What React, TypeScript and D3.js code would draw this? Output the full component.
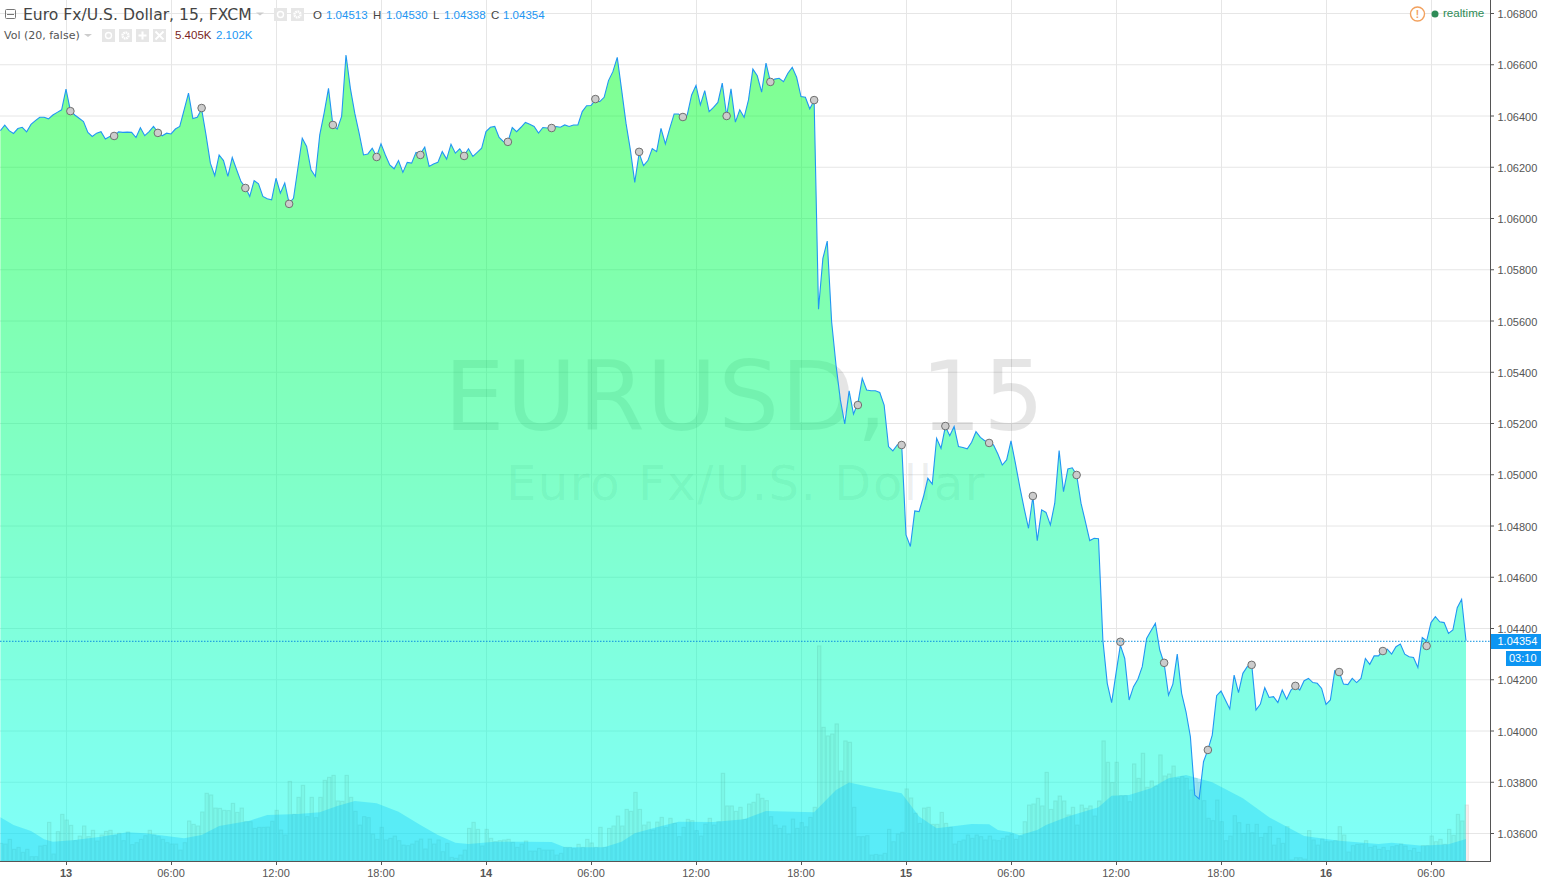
import React from 'react'
import * as d3 from 'd3'

// 15 minute closes, split by trading day. Index 0 is the "13" tick.
const closeDay12 = [1.06345,1.06366,1.06345,1.06334,1.06353,1.06358,1.06340,1.06369,1.06384,1.06397,1.06397,1.06391,1.06406,1.06416,1.06426]
const closeDay13 = [1.06507,1.06423,1.06406,1.06393,1.06380,1.06338,1.06322,1.06335,1.06341,1.06312,1.06322,1.06322,
  1.06340,1.06338,1.06339,1.06338,1.06318,1.06356,1.06325,1.06341,1.06361,1.06338,1.06325,1.06335,
  1.06332,1.06351,1.06361,1.06426,1.06491,1.06392,1.06397,1.06429,1.06328,1.06218,1.06169,1.06250,
  1.06228,1.06166,1.06240,1.06192,1.06146,1.06124,1.06088,1.06150,1.06137,1.06088,1.06079,1.06075,
  1.06159,1.06101,1.06140,1.06062,1.06081,1.06198,1.06315,1.06283,1.06192,1.06166,1.06328,1.06413,
  1.06510,1.06367,1.06351,1.06400,1.06640,1.06510,1.06413,1.06335,1.06250,1.06254,1.06276,1.06244,
  1.06293,1.06250,1.06211,1.06196,1.06228,1.06182,1.06221,1.06218,1.06260,1.06254,1.06280,1.06205,
  1.06215,1.06221,1.06263,1.06234,1.06292,1.06257,1.06274,1.06248,1.06274,1.06244,1.06260,1.06276]
const closeDay14 = [1.06341,1.06358,1.06361,1.06318,1.06302,1.06301,1.06357,1.06341,1.06358,1.06377,1.06370,1.06361,
  1.06335,1.06357,1.06355,1.06357,1.06361,1.06358,1.06367,1.06361,1.06367,1.06367,1.06419,1.06442,
  1.06443,1.06465,1.06458,1.06475,1.06540,1.06575,1.06631,1.06504,1.06374,1.06270,1.06143,1.06257,
  1.06208,1.06228,1.06275,1.06263,1.06354,1.06293,1.06354,1.06410,1.06410,1.06397,1.06406,1.06484,
  1.06521,1.06445,1.06501,1.06419,1.06436,1.06455,1.06530,1.06403,1.06508,1.06378,1.06426,1.06397,
  1.06465,1.06585,1.06559,1.06495,1.06608,1.06536,1.06546,1.06549,1.06536,1.06569,1.06592,1.06553,
  1.06478,1.06475,1.06430,1.06462,1.05648,1.05846,1.05914,1.05599,1.05430,1.05294,1.05200,1.05329,
  1.05239,1.05281,1.05378,1.05333,1.05330,1.05330,1.05323,1.05274,1.05112,1.05095,1.05118,1.05125]
const closeDay15 = [1.04767,1.04722,1.04861,1.04858,1.04917,1.04988,1.04966,1.05144,1.05105,1.05190,1.05154,1.05190,
  1.05112,1.05108,1.05103,1.05129,1.05170,1.05148,1.05135,1.05128,1.05118,1.05083,1.05040,1.05060,
  1.05134,1.05047,1.04956,1.04871,1.04793,1.04917,1.04745,1.04865,1.04855,1.04806,1.04891,1.05096,
  1.04936,1.05025,1.05029,1.05001,1.04891,1.04819,1.04745,1.04754,1.04752,1.04357,1.04188,1.04113,
  1.04227,1.04337,1.04285,1.04123,1.04175,1.04204,1.04253,1.04363,1.04393,1.04422,1.04318,1.04266,
  1.04142,1.04185,1.04302,1.04149,1.04077,1.03980,1.03752,1.03737,1.03882,1.03928,1.03986,1.04140,
  1.04158,1.04123,1.04088,1.04220,1.04152,1.04227,1.04253,1.04266,1.04084,1.04107,1.04171,1.04133,
  1.04136,1.04113,1.04162,1.04126,1.04162,1.04178,1.04162,1.04198,1.04207,1.04191,1.04188,1.04168]
const closeDay16 = [1.04106,1.04123,1.04237,1.04233,1.04185,1.04183,1.04207,1.04191,1.04207,1.04285,1.04262,1.04295,
  1.04295,1.04315,1.04321,1.04302,1.04331,1.04341,1.04302,1.04292,1.04289,1.04250,1.04367,1.04353,
  1.04425,1.04448,1.04428,1.04425,1.04383,1.04396,1.04483,1.04516,1.04354]
const closes = [...closeDay12, ...closeDay13, ...closeDay14, ...closeDay15, ...closeDay16]
const firstIndex = -closeDay12.length

// Volume in thousands, same bars as the closes.
const volDay12 = [1.70,1.64,2.09,1.13,1.32,0.84,1.13,0.42,0.42,1.45,1.51,3.73,0.68,2.83,4.50]
const volDay13 = [3.95,3.44,1.96,2.41,3.38,2.35,2.96,1.93,2.51,2.86,2.96,2.44,
  2.67,1.96,2.80,1.58,1.77,2.09,2.44,2.96,2.51,2.35,2.09,1.77,
  1.64,1.64,1.06,1.77,3.86,3.54,3.38,4.73,6.53,6.37,5.11,5.08,
  4.89,4.86,5.56,4.69,5.11,3.79,3.79,3.15,3.25,3.25,3.28,3.83,
  4.89,2.99,2.51,7.68,4.50,6.14,7.30,4.28,6.14,4.18,6.14,7.78,
  8.07,8.26,5.79,5.76,8.26,6.14,4.79,3.47,4.28,4.18,2.60,2.09,
  3.25,2.03,2.19,2.41,1.96,1.54,1.48,1.64,1.93,2.12,1.16,2.12,
  1.64,2.03,0.90,1.70,0.35,0.26,0.58,1.06,3.15,3.73,3.05,1.45]
const volDay14 = [3.05,2.19,1.86,1.96,2.03,2.09,1.80,1.32,1.64,1.93,0.96,0.96,
  1.22,1.06,1.06,1.06,0.58,0.74,1.32,1.32,1.19,1.61,1.32,2.09,
  1.74,1.32,3.25,1.32,3.15,3.38,4.34,3.38,4.98,4.79,6.62,4.98,
  3.47,3.76,2.99,3.76,4.21,3.25,4.12,3.63,2.35,3.25,4.02,3.89,
  2.93,2.41,3.57,4.12,3.47,3.79,8.46,5.31,5.31,4.79,5.18,4.02,
  5.50,5.66,6.46,6.05,5.82,4.28,3.47,3.15,3.38,2.60,4.05,3.15,
  3.70,3.30,4.21,5.18,20.74,12.89,12.06,12.25,13.22,8.68,11.58,11.45,
  5.18,2.35,2.35,2.44,0.58,0.64,0.58,0.74,3.05,1.86,2.60,2.77]
const volDay15 = [6.95,6.08,4.60,3.63,5.11,5.18,3.54,3.54,4.69,3.63,3.25,1.64,
  1.90,2.03,2.51,2.19,2.51,2.35,2.03,2.41,2.03,1.96,2.19,2.41,
  2.60,2.09,2.41,3.79,5.40,5.50,6.05,5.31,8.55,4.98,5.79,6.27,
  5.79,4.44,5.18,3.47,5.40,5.08,5.31,4.34,5.79,11.58,9.52,7.56,
  9.52,6.30,6.30,5.72,9.36,7.97,10.39,7.11,7.72,7.23,10.23,8.20,
  8.39,9.16,7.97,8.14,7.97,6.85,7.97,7.56,5.82,4.12,3.89,5.88,
  3.79,1.96,2.41,4.37,3.70,2.67,3.54,2.73,3.54,2.28,2.67,3.31,
  1.54,2.19,1.70,3.31,0.10,0.32,0.32,0.19,2.93,2.03,1.54,2.12]
const volDay16 = [1.86,1.86,1.96,3.31,2.51,0.87,1.48,1.61,1.64,1.96,1.32,1.45,
  1.13,1.32,1.00,1.38,1.48,1.64,1.45,1.00,1.22,0.84,1.48,1.48,
  2.41,1.86,2.09,1.61,3.05,2.48,4.50,3.86,5.405]
const volumes = [...volDay12, ...volDay13, ...volDay14, ...volDay15, ...volDay16]

// Vol (20) average, read at the places where its outline bends.
const maIndex = [-15,-12,-8,-5,-3,2,8,14,18,27,31,35,42,46,53,58,62,66,71,76,81,85,89,92,98,105,111,114,123,127,130,135,140,148,155,160,171,176,179,185,191,195,199,207,211,213,216,218,222,224,229,236,239,243,248,252,256,262,269,275,283,291,300,303,310,316,320]
const maValue = [4.21,3.47,2.89,2.09,1.86,2.03,2.35,2.77,2.67,2.19,2.51,3.38,3.89,4.44,4.53,4.69,5.31,5.79,5.56,4.76,3.47,2.51,1.77,1.64,1.86,1.86,1.83,1.32,1.32,1.86,2.67,3.25,3.79,3.76,4.02,4.82,4.69,6.85,7.56,7.01,6.53,4.28,3.15,3.57,3.54,2.99,2.77,2.48,2.99,3.47,4.28,5.18,6.30,6.37,7.01,7.97,8.30,7.59,6.05,4.21,2.41,1.96,1.64,1.77,1.48,1.61,2.12]

// Grey event dots, one every ten bars starting at index 1.
const dotPrices = [1.06421,1.06324,1.06336,1.06433,1.06121,1.06059,1.06367,1.06242,1.06250,1.06246,1.06301,1.06355,1.06468,1.06262,1.06398,1.06402,1.06535,1.06464,1.05274,1.05118,1.05192,1.05126,1.04919,1.05001,1.04350,1.04268,1.03928,1.04260,1.04178,1.04232,1.04314,1.04334]

const priceTicks = d3.range(1.036, 1.0681, 0.002)
const timeTickIndex = [0,24,48,72,96,120,144,168,192,216,240,264,288,312]
const timeTickLabel = ['13','06:00','12:00','18:00','14','06:00','12:00','18:00','15','06:00','12:00','18:00','16','06:00']
const lastPrice = 1.04354

const WIDTH = 1541
const HEIGHT = 881
const AXIS_X = 1490
const AXIS_Y = 861

const x = d3.scaleLinear().domain([0, 24]).range([66, 171])
const y = d3.scaleLinear().domain([1.036, 1.068]).range([834, 14])
const yVol = d3.scaleLinear().domain([0, 10]).range([AXIS_Y, AXIS_Y - 103.7])

const fontUi = 'Arial, "Liberation Sans", sans-serif'
const fontHeader = '"DejaVu Sans", sans-serif'

const IconBox = ({ px, py, kind }: { px: number, py: number, kind: string }) => {
    const cx = px + 6.5
    const cy = py + 6.5
    return (
        <g>
            <rect x={px} y={py} width={13} height={13} fill="#e6e6e6" />
            {kind === 'eye' && <circle cx={cx} cy={cy} r={3} fill="none" stroke="#fff" strokeWidth={1.4} />}
            {kind === 'gear' && <circle cx={cx} cy={cy} r={3} fill="none" stroke="#fff" strokeWidth={2.4} strokeDasharray="1.6 0.7" />}
            {kind === 'plus' && <path d={`M${cx - 4},${cy}h8M${cx},${cy - 4}v8`} stroke="#fff" strokeWidth={2} />}
            {kind === 'close' && <path d={`M${cx - 4},${cy - 4}l8,8M${cx + 4},${cy - 4}l-8,8`} stroke="#fff" strokeWidth={1.8} />}
        </g>
    )
}

const App = () => {
    const points = closes.map((c, k) => ({ i: firstIndex + k, c }))

    const areaPath = d3.area<{ i: number, c: number }>()
        .x(d => x(d.i))
        .y0(AXIS_Y)
        .y1(d => y(d.c))(points)
    const linePath = d3.line<{ i: number, c: number }>()
        .x(d => x(d.i))
        .y(d => y(d.c))(points)
    const maPath = d3.area<number>()
        .x((_, k) => x(maIndex[k]))
        .y0(AXIS_Y)
        .y1(d => yVol(d))(maValue)

    return (
        <svg width={WIDTH} height={HEIGHT} style={{ position: 'fixed', left: 0, top: 0, background: '#fff', display: 'block' }}>
            <defs>
                <linearGradient id="priceFill" gradientUnits="userSpaceOnUse" x1={0} x2={0} y1={57} y2={AXIS_Y}>
                    <stop offset="0%" stopColor="#00ff22" stopOpacity={0.5} />
                    <stop offset="100%" stopColor="#00fff5" stopOpacity={0.5} />
                </linearGradient>
                <clipPath id="plot"><rect x={0} y={0} width={AXIS_X} height={AXIS_Y} /></clipPath>
            </defs>

            {priceTicks.map(t => (
                <line key={`h${t}`} x1={0} x2={AXIS_X} y1={y(t) - 0.5} y2={y(t) - 0.5} stroke="#e6e6e6" />
            ))}
            {timeTickIndex.map(t => (
                <line key={`v${t}`} x1={x(t) + 0.5} x2={x(t) + 0.5} y1={0} y2={AXIS_Y} stroke="#e6e6e6" />
            ))}

            <text x={745} y={430} textAnchor="middle" fontFamily={fontHeader} fontSize={96} letterSpacing={1.6} fill="#000" fillOpacity={0.1}>EURUSD, 15</text>
            <text x={746} y={500} textAnchor="middle" fontFamily={fontHeader} fontSize={48} letterSpacing={1.6} fill="#000" fillOpacity={0.08}>Euro Fx/U.S. Dollar</text>

            <g clipPath="url(#plot)">
                <path d={areaPath!} fill="url(#priceFill)" />
                {volumes.map((v, k) => {
                    const isLast = k === volumes.length - 1
                    return (
                        <rect key={k} x={x(firstIndex + k) - 1} y={yVol(v)} width={3.4} height={AXIS_Y - yVol(v)}
                            fill={isLast ? '#c98a8a' : '#5fc3a8'} fillOpacity={0.14}
                            stroke={isLast ? '#c98a8a' : '#4fa392'} strokeOpacity={0.18} strokeWidth={1} />
                    )
                })}
                <path d={maPath!} fill="#10c8f8" fillOpacity={0.34} />
                <path d={linePath!} fill="none" stroke="#2196f3" strokeWidth={1.1} />
                {dotPrices.map((p, k) => (
                    <circle key={k} cx={x(1 + k * 10)} cy={y(p)} r={3.8} fill="#ccc" stroke="#6f6f6f" strokeWidth={1} />
                ))}
            </g>

            <line x1={0} x2={AXIS_X} y1={y(lastPrice) + 0.5} y2={y(lastPrice) + 0.5} stroke="#0a8ee0" strokeDasharray="1.5 1.5" />

            {/* axes */}
            <line x1={AXIS_X + 0.5} x2={AXIS_X + 0.5} y1={0} y2={AXIS_Y + 1} stroke="#555" />
            <line x1={0} x2={AXIS_X + 1} y1={AXIS_Y + 0.5} y2={AXIS_Y + 0.5} stroke="#555" />
            {priceTicks.map(t => (
                <g key={`pt${t}`}>
                    <line x1={AXIS_X} x2={AXIS_X + 4} y1={y(t) - 0.5} y2={y(t) - 0.5} stroke="#555" />
                    <text x={1497.5} y={y(t) + 4} fontFamily={fontUi} fontSize={11} fill="#555">{t.toFixed(5)}</text>
                </g>
            ))}
            {timeTickIndex.map((t, k) => (
                <g key={`tt${t}`}>
                    <line x1={x(t) + 0.5} x2={x(t) + 0.5} y1={AXIS_Y} y2={AXIS_Y + 4} stroke="#555" />
                    <text x={x(t)} y={877} textAnchor="middle" fontFamily={fontUi} fontSize={11}
                        fontWeight={timeTickLabel[k].length === 2 ? 'bold' : 'normal'} fill="#555">{timeTickLabel[k]}</text>
                </g>
            ))}

            {/* last price labels */}
            <rect x={1491} y={634} width={50} height={15} fill="#0d95f2" />
            <text x={1497.5} y={645} fontFamily={fontUi} fontSize={11} fill="#fff">{lastPrice.toFixed(5)}</text>
            <rect x={1506} y={651} width={35} height={15} fill="#0d95f2" />
            <text x={1509} y={662} fontFamily={fontUi} fontSize={11} fill="#fff">03:10</text>

            {/* header */}
            <rect x={5.5} y={9.5} width={10} height={9} fill="none" stroke="#777" rx={1} />
            <line x1={7} x2={14} y1={14.5} y2={14.5} stroke="#777" />
            <text x={23} y={20} fontFamily={fontHeader} fontSize={15.6} fill="#444">Euro Fx/U.S. Dollar, 15, FXCM</text>
            <path d="M256,12.5h8l-4,3z" fill="#ccc" />
            <IconBox px={274} py={8} kind="eye" />
            <IconBox px={291} py={8} kind="gear" />
            <text x={313} y={19} fontFamily={fontUi} fontSize={11.5} fill="#444">O</text>
            <text x={326} y={19} fontFamily={fontUi} fontSize={11.5} fill="#2196f3">1.04513</text>
            <text x={373} y={19} fontFamily={fontUi} fontSize={11.5} fill="#444">H</text>
            <text x={386} y={19} fontFamily={fontUi} fontSize={11.5} fill="#2196f3">1.04530</text>
            <text x={433} y={19} fontFamily={fontUi} fontSize={11.5} fill="#444">L</text>
            <text x={444} y={19} fontFamily={fontUi} fontSize={11.5} fill="#2196f3">1.04338</text>
            <text x={491} y={19} fontFamily={fontUi} fontSize={11.5} fill="#444">C</text>
            <text x={503} y={19} fontFamily={fontUi} fontSize={11.5} fill="#2196f3">1.04354</text>

            <text x={4} y={39} fontFamily={fontHeader} fontSize={11} fill="#555">Vol (20, false)</text>
            <path d="M84,34h8l-4,3z" fill="#ccc" />
            <IconBox px={102} py={29} kind="eye" />
            <IconBox px={119} py={29} kind="gear" />
            <IconBox px={136} py={29} kind="plus" />
            <IconBox px={153} py={29} kind="close" />
            <text x={175} y={39} fontFamily={fontUi} fontSize={11.5} fill="#7a1f24">5.405K</text>
            <text x={216} y={39} fontFamily={fontUi} fontSize={11.5} fill="#2196f3">2.102K</text>

            {/* status */}
            <circle cx={1417.5} cy={14} r={7} fill="#fff" stroke="#f2a15e" strokeWidth={1.4} />
            <text x={1417.5} y={18} textAnchor="middle" fontFamily={fontUi} fontSize={10} fontWeight="bold" fill="#f2a15e">!</text>
            <circle cx={1435} cy={14} r={3.5} fill="#2e8b57" />
            <text x={1443} y={17} fontFamily={fontUi} fontSize={11.6} fill="#2e8b57">realtime</text>
        </svg>
    )
}

export default App
